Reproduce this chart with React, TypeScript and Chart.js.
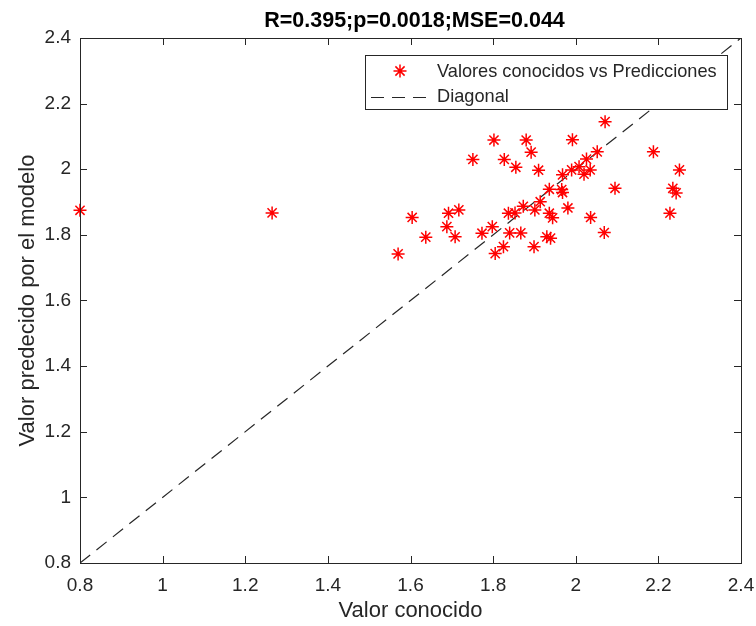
import React, { useEffect, useRef } from "react";
import { Chart, registerables } from "chart.js";

Chart.register(...registerables);

const knownValues: number[] = [
  0.8, 1.265, 1.57, 1.604, 1.637, 1.688, 1.692, 1.708, 1.717, 1.751,
  1.773, 1.798, 1.802, 1.805, 1.825, 1.827, 1.837, 1.84, 1.853, 1.855,
  1.867, 1.873, 1.88, 1.892, 1.901, 1.899, 1.91, 1.93, 1.939, 1.936,
  1.944, 1.936, 1.966, 1.968, 1.968, 1.981, 1.99, 1.992, 2.008, 2.02,
  2.026, 2.035, 2.036, 2.052, 2.069, 2.071, 2.095, 2.188, 2.228, 2.235,
  2.243, 2.251, 1.914,
];
const predictedValues: number[] = [
  1.875, 1.867, 1.742, 1.853, 1.793, 1.825, 1.866, 1.794, 1.876, 2.03,
  1.805, 1.825, 2.089, 1.743, 1.764, 2.03, 1.866, 1.806, 1.867, 2.006,
  1.806, 1.887, 2.089, 2.052, 1.876, 1.764, 1.997, 1.794, 1.79, 1.866,
  1.852, 1.939, 1.938, 1.929, 1.983, 1.882, 1.998, 2.09, 2.008, 1.985,
  2.031, 1.998, 1.853, 2.053, 1.807, 2.145, 1.942, 2.053, 1.866, 1.942,
  1.928, 1.998, 1.901,
];
const diagonalX: number[] = [0.8, 2.4];
const diagonalY: number[] = [0.8, 2.4];

const titleText = "R=0.395;p=0.0018;MSE=0.044";
const xLabel = "Valor conocido";
const yLabel = "Valor predecido por el modelo";
const seriesLabel = "Valores conocidos vs Predicciones";
const diagLabel = "Diagonal";

const AX = "#262626";
const FONT = "'Liberation Sans', Arial, Helvetica, sans-serif";

const decorPlugin = {
  id: "decor",
  afterDatasetsDraw(chart: any) {
    const ctx = chart.ctx as CanvasRenderingContext2D;
    const { left, right, top, bottom } = chart.chartArea;
    const xs = chart.scales.x;
    const ys = chart.scales.y;
    ctx.save();
    // box
    ctx.strokeStyle = AX;
    ctx.lineWidth = 1;
    ctx.setLineDash([]);
    ctx.strokeRect(Math.round(left) + 0.5, Math.round(top) + 0.5, Math.round(right - left), Math.round(bottom - top));
    // ticks inside
    const tl = 7;
    ctx.beginPath();
    xs.ticks.forEach((t: any) => {
      const p = Math.round(xs.getPixelForValue(t.value)) + 0.5;
      ctx.moveTo(p, bottom);
      ctx.lineTo(p, bottom - tl);
      ctx.moveTo(p, top);
      ctx.lineTo(p, top + tl);
    });
    ys.ticks.forEach((t: any) => {
      const p = Math.round(ys.getPixelForValue(t.value)) + 0.5;
      ctx.moveTo(left, p);
      ctx.lineTo(left + tl, p);
      ctx.moveTo(right, p);
      ctx.lineTo(right - tl, p);
    });
    ctx.stroke();

    // legend
    const lx = 365, ly = 55, lw = 362, lh = 54;
    ctx.fillStyle = "#ffffff";
    ctx.fillRect(lx, ly, lw, lh);
    ctx.strokeStyle = AX;
    ctx.strokeRect(lx + 0.5, ly + 0.5, lw, lh);
    // star
    const sx = 400, sy = 71, r = 6.5;
    ctx.strokeStyle = "#ff0000";
    ctx.lineWidth = 1.5;
    ctx.beginPath();
    for (let i = 0; i < 4; i++) {
      const a = (i * Math.PI) / 4;
      ctx.moveTo(sx - Math.cos(a) * r, sy - Math.sin(a) * r);
      ctx.lineTo(sx + Math.cos(a) * r, sy + Math.sin(a) * r);
    }
    ctx.stroke();
    // dashed line
    ctx.strokeStyle = AX;
    ctx.lineWidth = 1.2;
    ctx.setLineDash([13, 8]);
    ctx.beginPath();
    ctx.moveTo(371, 97.5);
    ctx.lineTo(433, 97.5);
    ctx.stroke();
    ctx.setLineDash([]);
    ctx.fillStyle = AX;
    ctx.font = `18.2px ${FONT}`;
    ctx.textAlign = "left";
    ctx.textBaseline = "middle";
    ctx.fillText(seriesLabel, 437, 72);
    ctx.fillText(diagLabel, 437, 97);

    // title
    ctx.fillStyle = "#000000";
    ctx.font = `bold 21.5px ${FONT}`;
    ctx.textAlign = "center";
    ctx.textBaseline = "alphabetic";
    ctx.fillText(titleText, (left + right) / 2 + 4, 27);

    // axis titles
    ctx.fillStyle = AX;
    ctx.font = `22px ${FONT}`;
    ctx.textBaseline = "middle";
    ctx.fillText(xLabel, (left + right) / 2, 611);
    ctx.save();
    ctx.translate(28, (top + bottom) / 2);
    ctx.rotate(-Math.PI / 2);
    ctx.fillText(yLabel, 0, 0);
    ctx.restore();
    ctx.restore();
  },
};

export default function App() {
  const ref = useRef<HTMLCanvasElement | null>(null);
  useEffect(() => {
    if (!ref.current) return;
    const points = knownValues.map((x, i) => ({ x, y: predictedValues[i] }));
    const diag = diagonalX.map((x, i) => ({ x, y: diagonalY[i] }));
    const chart = new Chart(ref.current, {
      type: "scatter",
      data: {
        datasets: [
          {
            label: diagLabel,
            data: diag,
            showLine: true,
            borderColor: AX,
            borderWidth: 1.2,
            borderDash: [13, 8],
            pointRadius: 0,
            order: 2,
          } as any,
          {
            label: seriesLabel,
            data: points,
            pointStyle: "star",
            pointRadius: 6.5,
            borderColor: "#ff0000",
            backgroundColor: "#ff0000",
            pointBorderWidth: 1.5,
            borderWidth: 1.5,
            clip: false,
            order: 1,
          } as any,
        ],
      },
      options: {
        animation: false,
        responsive: false,
        maintainAspectRatio: false,
        layout: { padding: { top: 38, right: 15, left: 0, bottom: 0 } },
        plugins: {
          legend: { display: false },
          title: { display: false },
          tooltip: { enabled: false },
        },
        scales: {
          x: {
            type: "linear",
            min: 0.8,
            max: 2.4,
            ticks: {
              stepSize: 0.2,
              color: AX,
              font: { size: 19, family: FONT },
              padding: 11,
              maxRotation: 0,
              callback: (v: any) => String(Math.round(Number(v) * 10) / 10),
            },
            grid: { display: false, drawTicks: false },
            border: { display: false },
            afterFit: (s: any) => {
              s.height = 63;
              s.paddingLeft = 0;
              s.paddingRight = 0;
            },
          },
          y: {
            type: "linear",
            min: 0.8,
            max: 2.4,
            ticks: {
              stepSize: 0.2,
              color: AX,
              font: { size: 19, family: FONT },
              padding: 9,
              callback: (v: any) => String(Math.round(Number(v) * 10) / 10),
            },
            grid: { display: false, drawTicks: false },
            border: { display: false },
            afterFit: (s: any) => {
              s.width = 80;
              s.paddingTop = 0;
              s.paddingBottom = 0;
            },
          },
        },
      },
      plugins: [decorPlugin],
    });
    return () => chart.destroy();
  }, []);
  return (
    <div style={{ position: "fixed", left: 0, top: 0, width: 756, height: 626, background: "#fff" }}>
      <canvas ref={ref} width={756} height={626} style={{ width: 756, height: 626 }} />
    </div>
  );
}
